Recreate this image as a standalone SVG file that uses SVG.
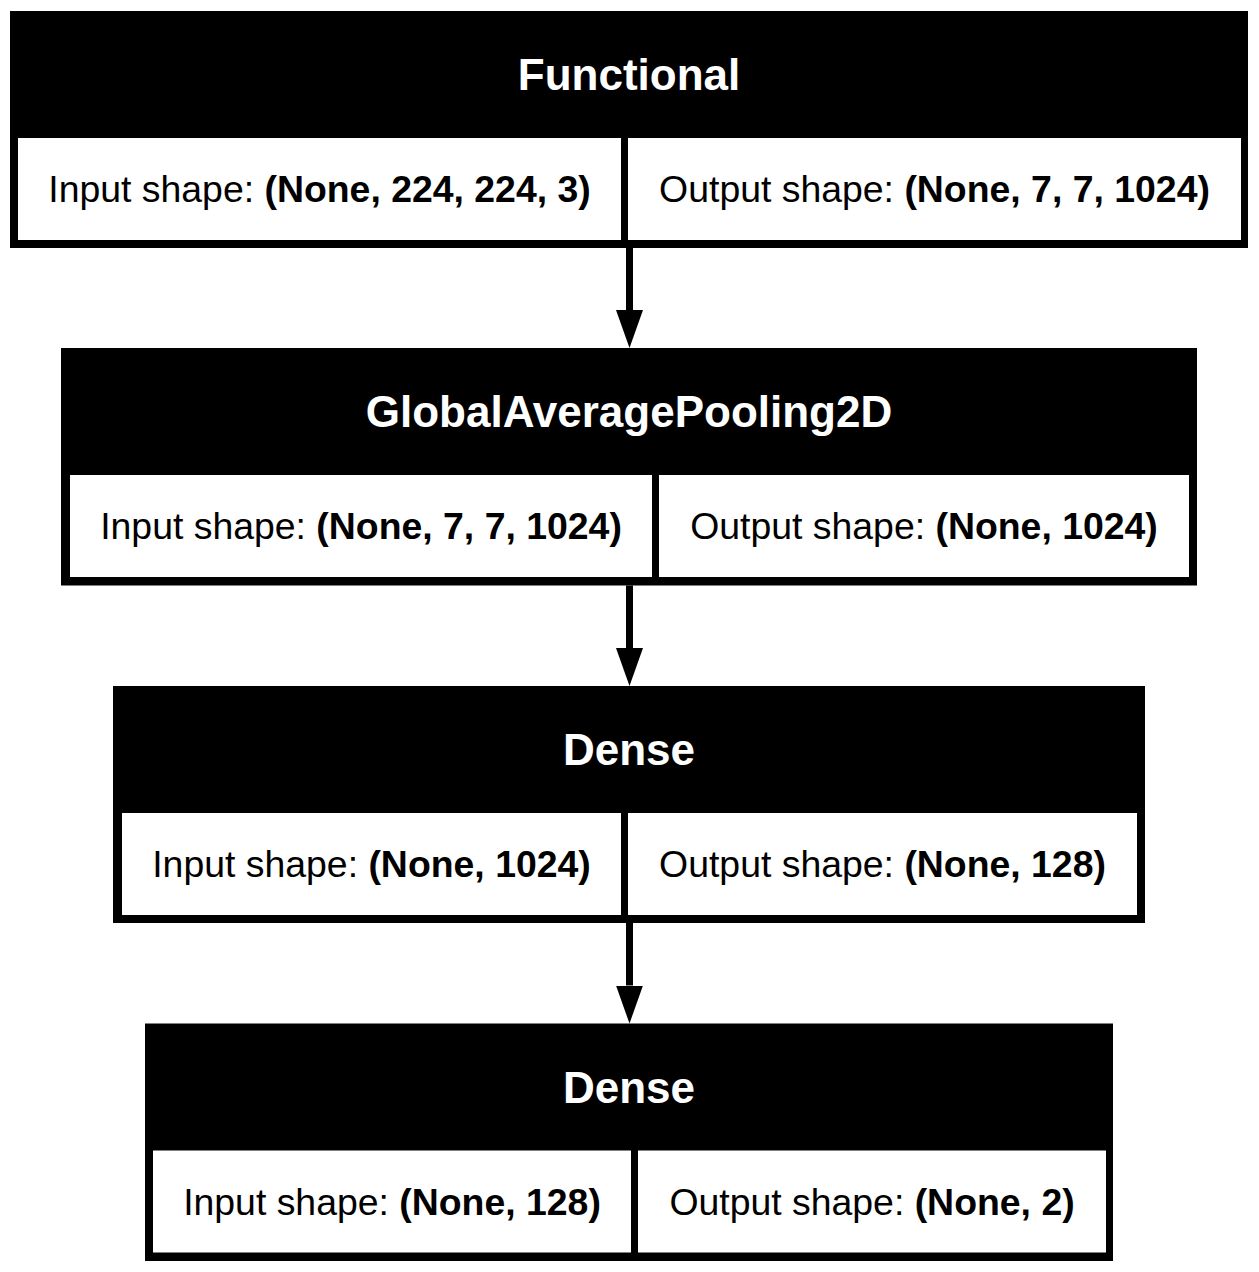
<svg xmlns="http://www.w3.org/2000/svg" width="1259" height="1272" viewBox="0 0 1259 1272">
<style>
.frame{fill:#000}
.cell{fill:#fff}
.title{font-family:"Liberation Sans",Arial,Helvetica,sans-serif;font-size:44px;font-weight:bold;fill:#fff;text-anchor:middle}
.lbl{font-family:"Liberation Sans",Arial,Helvetica,sans-serif;font-size:37.4px;fill:#000;text-anchor:middle}
.b{font-weight:bold}
.edge{stroke:#000;stroke-width:7;fill:none}
</style>
<defs>
<marker id="ah" markerUnits="userSpaceOnUse" markerWidth="38" markerHeight="27" viewBox="0 0 38 27" refX="0" refY="13.5" orient="auto">
<path d="M0,0 L38,13.5 L0,27 z" fill="#000"/>
</marker>
</defs>
<rect width="1259" height="1272" fill="#fff"/>
<g id="connectors">
<line class="edge" x1="629.5" y1="248" x2="629.5" y2="310" marker-end="url(#ah)"/>
<line class="edge" x1="629.5" y1="585.5" x2="629.5" y2="648" marker-end="url(#ah)"/>
<line class="edge" x1="629.5" y1="923" x2="629.5" y2="985.5" marker-end="url(#ah)"/>
</g>
<g id="node-functional">
<rect class="frame" x="10" y="11" width="1238" height="237"/>
<rect class="cell" x="18" y="138" width="603" height="102"/>
<rect class="cell" x="628" y="138" width="613" height="102"/>
<text class="title" x="629" y="90">Functional</text>
<text class="lbl" x="319.5" y="202">Input shape: <tspan class="b">(None, 224, 224, 3)</tspan></text>
<text class="lbl" x="934.5" y="202">Output shape: <tspan class="b">(None, 7, 7, 1024)</tspan></text>
</g>
<g id="node-gap">
<rect class="frame" x="61" y="348" width="1136" height="237.5"/>
<rect class="cell" x="70" y="475" width="582" height="102"/>
<rect class="cell" x="659" y="475" width="530" height="102"/>
<text class="title" x="629" y="427">GlobalAveragePooling2D</text>
<text class="lbl" x="361" y="539">Input shape: <tspan class="b">(None, 7, 7, 1024)</tspan></text>
<text class="lbl" x="924" y="539">Output shape: <tspan class="b">(None, 1024)</tspan></text>
</g>
<g id="node-dense1">
<rect class="frame" x="113" y="686" width="1032" height="237"/>
<rect class="cell" x="122" y="813" width="499" height="102"/>
<rect class="cell" x="628" y="813" width="509" height="102"/>
<text class="title" x="629" y="765">Dense</text>
<text class="lbl" x="371.5" y="877">Input shape: <tspan class="b">(None, 1024)</tspan></text>
<text class="lbl" x="882.5" y="877">Output shape: <tspan class="b">(None, 128)</tspan></text>
</g>
<g id="node-dense2">
<rect class="frame" x="145" y="1023.5" width="968" height="237.5"/>
<rect class="cell" x="153" y="1150.5" width="478" height="102"/>
<rect class="cell" x="638" y="1150.5" width="468" height="102"/>
<text class="title" x="629" y="1102.5">Dense</text>
<text class="lbl" x="392" y="1214.5">Input shape: <tspan class="b">(None, 128)</tspan></text>
<text class="lbl" x="872" y="1214.5">Output shape: <tspan class="b">(None, 2)</tspan></text>
</g>
</svg>
